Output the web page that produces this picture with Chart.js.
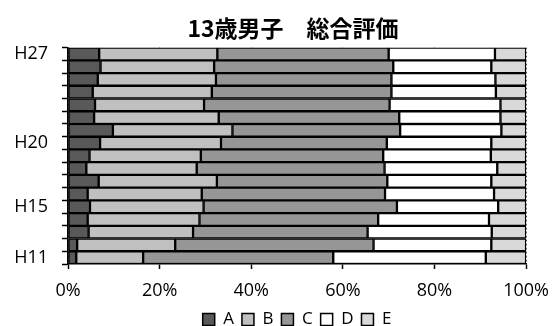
<!DOCTYPE html>
<html>
<head>
<meta charset="utf-8">
<script src="https://cdn.jsdelivr.net/npm/chart.js@4/dist/chart.umd.min.js"></script>
<style>
  html, body { margin: 0; padding: 0; background: #fff; overflow: hidden; }
  #wrap { width: 560px; height: 338px; }
</style>
</head>
<body>
<div id="wrap"><canvas id="evalChart" width="560" height="338"></canvas></div>
<script>
// years, top row first
const years = ["H27", "H26", "H25", "H24", "H23", "H22", "H21", "H20", "H19",
               "H18", "H17", "H16", "H15", "H14", "H13", "H12", "H11"];
const shownYears = ["H27", "H20", "H15", "H11"];

// percent share of each grade
const gradeA = [6.8, 7.1, 6.5, 5.4, 5.9, 5.7, 9.8, 7.0, 4.7, 4.0, 6.7, 4.3, 4.8, 4.3, 4.5, 2.0, 1.8];
const gradeB = [25.8, 24.8, 25.8, 26.0, 23.8, 27.2, 26.1, 26.4, 24.3, 24.1, 25.8, 24.9, 24.8, 24.4, 22.8, 21.4, 14.6];
const gradeC = [37.4, 39.1, 38.3, 39.2, 40.5, 39.4, 36.6, 36.2, 39.8, 41.0, 37.2, 40.0, 42.2, 39.0, 38.1, 43.3, 41.5];
const gradeD = [23.2, 21.4, 22.7, 22.8, 24.2, 22.1, 22.1, 22.8, 23.5, 24.6, 22.7, 23.8, 22.1, 24.2, 27.1, 25.7, 33.3];
const gradeE = [6.8, 7.6, 6.7, 6.6, 5.6, 5.6, 5.4, 7.6, 7.7, 6.3, 7.6, 7.0, 6.1, 8.1, 7.5, 7.6, 8.8];

const xTicks = [0, 20, 40, 60, 80, 100];

const grades = [
  { label: "A", data: gradeA, color: "#595959" },
  { label: "B", data: gradeB, color: "#c0c0c0" },
  { label: "C", data: gradeC, color: "#969696" },
  { label: "D", data: gradeD, color: "#ffffff" },
  { label: "E", data: gradeE, color: "#d9d9d9" }
];

// nudge the title a bit to the right, like the original
const titleShift = {
  id: "titleShift",
  afterLayout(chart) {
    if (chart.titleBlock) chart.titleBlock.left = 26;
  }
};

const ctx = document.getElementById("evalChart").getContext("2d");

new Chart(ctx, {
  type: "bar",
  data: {
    labels: years,
    datasets: grades.map(g => ({
      label: g.label,
      data: g.data,
      backgroundColor: g.color,
      borderColor: "#000",
      borderWidth: 1.5,
      borderSkipped: false,
      barPercentage: 1,
      categoryPercentage: 1
    }))
  },
  plugins: [titleShift],
  options: {
    indexAxis: "y",
    responsive: false,
    animation: false,
    devicePixelRatio: 1,
    layout: { padding: 0 },
    plugins: {
      title: {
        display: true,
        text: "13歳男子　総合評価",
        color: "#000",
        font: { family: "'Noto Sans CJK JP'", size: 23, weight: "bold" },
        padding: { top: 14, bottom: 6 }
      },
      legend: {
        position: "bottom",
        fullSize: false,
        labels: {
          color: "#000",
          boxWidth: 12,
          boxHeight: 12,
          padding: 8,
          font: { family: "'Open Sans'", size: 17 }
        }
      },
      tooltip: { enabled: false }
    },
    scales: {
      x: {
        stacked: true,
        min: 0,
        max: 100,
        z: 1,
        afterBuildTicks: scale => { scale.ticks = xTicks.map(v => ({ value: v })); },
        afterFit: scale => { scale.height = 39; },
        ticks: {
          color: "#000",
          padding: 11,
          font: { family: "'Open Sans'", size: 18 },
          callback: v => v + "%"
        },
        grid: {
          color: "#6e6e6e",
          lineWidth: 1,
          tickColor: "#000",
          tickWidth: 1.5,
          tickLength: 5
        },
        border: { color: "#000", width: 1.5, dash: [2, 2] }
      },
      y: {
        stacked: true,
        afterFit: scale => { scale.width = 68; },
        ticks: {
          color: "#000",
          padding: 14,
          autoSkip: false,
          font: { family: "'Open Sans'", size: 18 },
          callback: (v, i) => shownYears.includes(years[i]) ? years[i] : ""
        },
        grid: {
          drawOnChartArea: false,
          tickColor: "#000",
          tickWidth: 1.5,
          tickLength: 6
        },
        border: { color: "#000", width: 1.5 }
      }
    }
  }
});
</script>
</body>
</html>
